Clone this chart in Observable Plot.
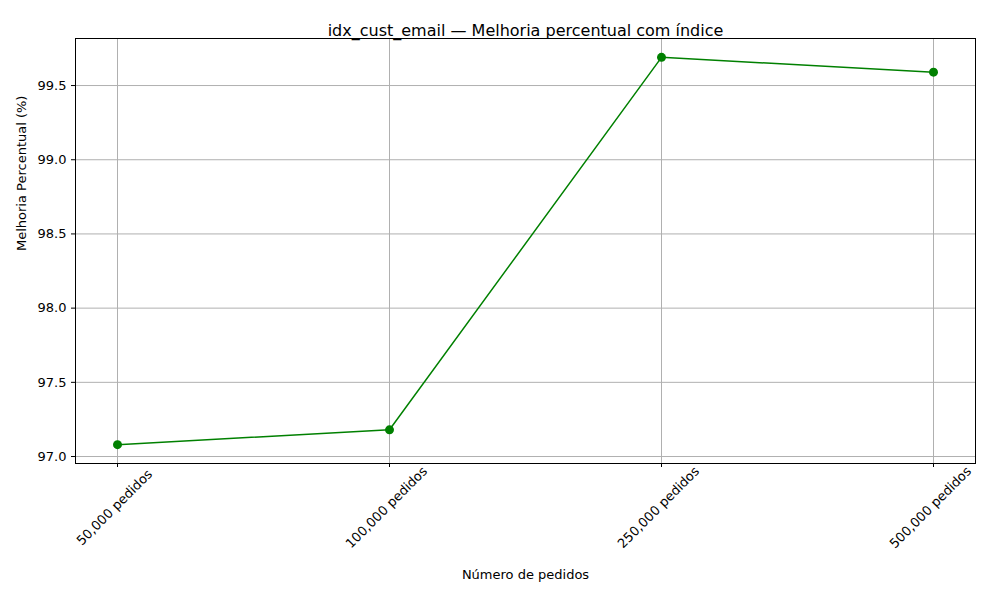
<!DOCTYPE html>
<html>
<head>
<meta charset="utf-8">
<script src="https://cdn.jsdelivr.net/npm/d3@7"></script>
<script src="https://cdn.jsdelivr.net/npm/@observablehq/plot@0.6"></script>
<style>
body { margin: 0; background: #fff; font-family: "DejaVu Sans", sans-serif; }
</style>
</head>
<body>
<div id="chart"></div>
<script>
const categorias = ["50,000 pedidos", "100,000 pedidos", "250,000 pedidos", "500,000 pedidos"];
const melhoria = [97.08, 97.18, 99.69, 99.59];
const yTicks = [97.0, 97.5, 98.0, 98.5, 99.0, 99.5];

const data = categorias.map((c, i) => ({cat: c, v: melhoria[i]}));

const chart = Plot.plot({
  width: 1000,
  height: 600,
  marginLeft: 75,
  marginRight: 25,
  marginTop: 38,
  marginBottom: 137,
  style: {fontFamily: "DejaVu Sans, sans-serif", fontSize: "13px", color: "#000"},
  x: {type: "point", domain: categorias, padding: 0.15, label: null},
  y: {domain: [96.953, 99.817], label: null},
  marks: [
    Plot.gridX(categorias, {stroke: "#b0b0b0", strokeOpacity: 1}),
    Plot.gridY(yTicks, {stroke: "#b0b0b0", strokeOpacity: 1}),
    Plot.frame({stroke: "#000"}),
    Plot.axisX({tickSize: 4, tickFormat: () => ""}),
    Plot.text(categorias, {x: d => d, frameAnchor: "bottom", dy: 47, rotate: -45, textAnchor: "middle", fontSize: 13}),
    Plot.axisY(yTicks, {tickSize: 4, tickFormat: d3.format(".1f"), fontSize: 13}),
    Plot.line(data, {x: "cat", y: "v", stroke: "green", strokeWidth: 1.5}),
    Plot.dot(data, {x: "cat", y: "v", fill: "green", r: 4.5}),
    Plot.text(["idx_cust_email — Melhoria percentual com índice"], {frameAnchor: "top", dy: -14, fontSize: 16}),
    Plot.text(["Número de pedidos"], {frameAnchor: "bottom", dy: 115, fontSize: 13}),
    Plot.text(["Melhoria Percentual (%)"], {frameAnchor: "left", dx: -54, rotate: -90, fontSize: 13})
  ]
});
document.getElementById("chart").append(chart);
</script>
</body>
</html>
